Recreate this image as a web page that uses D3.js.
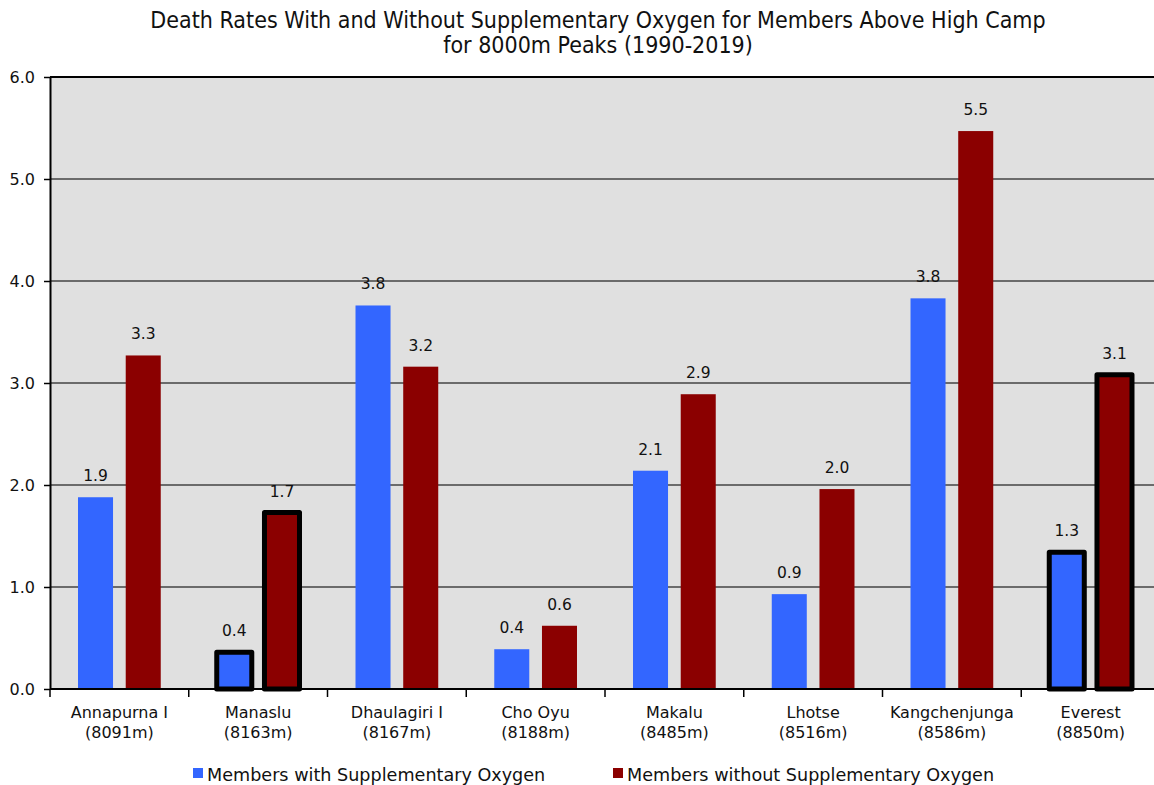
<!DOCTYPE html>
<html><head><meta charset="utf-8">
<script src="https://cdn.jsdelivr.net/npm/d3@7"></script>
<style>body{margin:0;background:#fff;}svg{display:block;}</style>
</head><body>
<svg id="c" width="1154" height="785"></svg>
<script>
const peaks = ["Annapurna I","Manaslu","Dhaulagiri I","Cho Oyu","Makalu","Lhotse","Kangchenjunga","Everest"];
const heights = ["(8091m)","(8163m)","(8167m)","(8188m)","(8485m)","(8516m)","(8586m)","(8850m)"];
const withO2 = [1.88,0.36,3.76,0.39,2.14,0.93,3.83,1.34];
const withoutO2 = [3.27,1.73,3.16,0.62,2.89,1.96,5.47,3.08];
const highlighted = ["Manaslu","Everest"];
const seriesNames = ["Members with Supplementary Oxygen","Members without Supplementary Oxygen"];
const colors = ["#3366ff","#8b0000"];
const yTicks = [0,1,2,3,4,5,6];

const svg = d3.select("#c");
const m = {l:50, t:77, r:-6, b:96};
const W = 1154, H = 785;
const x0 = d3.scaleBand().domain(peaks).range([m.l, W - m.r]).paddingInner(0).paddingOuter(0);
const x1 = d3.scaleBand().domain([0,1]).range([0, x0.bandwidth()]).paddingInner(0.266).paddingOuter(0.587);
const y = d3.scaleLinear().domain([0,6]).range([H - m.b, m.t]);
const font = "DejaVu Sans, Verdana, sans-serif";

svg.append("rect").attr("x", m.l).attr("y", m.t).attr("width", W - m.r - m.l).attr("height", y(0)-m.t).attr("fill","#e0e0e0");

// gridlines
svg.append("g").selectAll("line").data(yTicks.filter(d=>d>0)).join("line")
  .attr("x1", m.l).attr("x2", W).attr("y1", d=>y(d)).attr("y2", d=>y(d))
  .attr("stroke", d=> d===6 ? "#000" : "#444").attr("stroke-width", d=> d===6?1.8:1.4);

// bars
const groups = svg.append("g").selectAll("g").data(peaks).join("g")
  .attr("transform", d=>`translate(${x0(d)},0)`);
groups.each(function(p, i){
  const g = d3.select(this);
  const hl = highlighted.includes(p);
  [withO2[i], withoutO2[i]].forEach((v, s) => {
    g.append("rect")
      .attr("x", x1(s)).attr("y", y(v)).attr("width", x1.bandwidth()).attr("height", y(0)-y(v))
      .attr("fill", colors[s])
      .attr("stroke", hl ? "#000" : "none").attr("stroke-width", hl ? 5 : 0)
      .attr("stroke-linejoin","round");
    g.append("text").attr("x", x1(s)+x1.bandwidth()/2).attr("y", y(v) - 16)
      .attr("text-anchor","middle").attr("font-family",font).attr("font-size",15.5).attr("fill","#111")
      .text(d3.format(".1f")(v));
  });
});

// y axis
const ya = svg.append("g").attr("transform",`translate(${m.l},0)`)
  .call(d3.axisLeft(y).tickValues(yTicks).tickFormat(d3.format(".1f")).tickSize(6).tickSizeOuter(0));
ya.select(".domain").attr("stroke","#000").attr("stroke-width",2);
ya.selectAll(".tick line").attr("stroke","#000").attr("stroke-width",1.5);
ya.selectAll(".tick text").attr("font-family",font).attr("font-size",16).attr("fill","#111").attr("dx",-6);

// x axis
const xa = svg.append("g").attr("transform",`translate(0,${y(0)})`)
  .call(d3.axisBottom(x0).tickSize(0).tickFormat(""));
xa.select(".domain").attr("stroke","#000").attr("stroke-width",2).attr("d",`M${m.l},0H${W}`);
svg.append("g").selectAll("line").data(peaks.map((p)=>x0(p))).join("line")
  .attr("x1",d=>d).attr("x2",d=>d).attr("y1",y(0)).attr("y2",y(0)+8).attr("stroke","#000").attr("stroke-width",1.5);
svg.append("g").selectAll("text").data(peaks).join("text")
  .attr("x", d=>x0(d)+x0.bandwidth()/2).attr("y", y(0)+29)
  .attr("text-anchor","middle").attr("font-family",font).attr("font-size",16).attr("fill","#111")
  .each(function(d,i){
    const t = d3.select(this);
    t.append("tspan").attr("x", x0(d)+x0.bandwidth()/2).text(d);
    t.append("tspan").attr("x", x0(d)+x0.bandwidth()/2).attr("dy",20).text(heights[i]);
  });

// title
const title = svg.append("text").attr("x", 598).attr("y", 28).attr("text-anchor","middle")
  .attr("font-family","DejaVu Sans Condensed, DejaVu Sans, sans-serif").attr("font-stretch","condensed").attr("font-size",23).attr("fill","#111");
title.append("tspan").attr("x",598).text("Death Rates With and Without Supplementary Oxygen for Members Above High Camp");
title.append("tspan").attr("x",598).attr("dy",25).text("for 8000m Peaks (1990-2019)");

// legend
const legX = [193, 613];
seriesNames.forEach((n,s)=>{
  svg.append("rect").attr("x",legX[s]).attr("y",768).attr("width",10).attr("height",10).attr("fill",colors[s]);
  svg.append("text").attr("x",legX[s]+14).attr("y",781).attr("font-family",font).attr("font-size",17.6).attr("fill","#111").text(n);
});
</script>
</body></html>
